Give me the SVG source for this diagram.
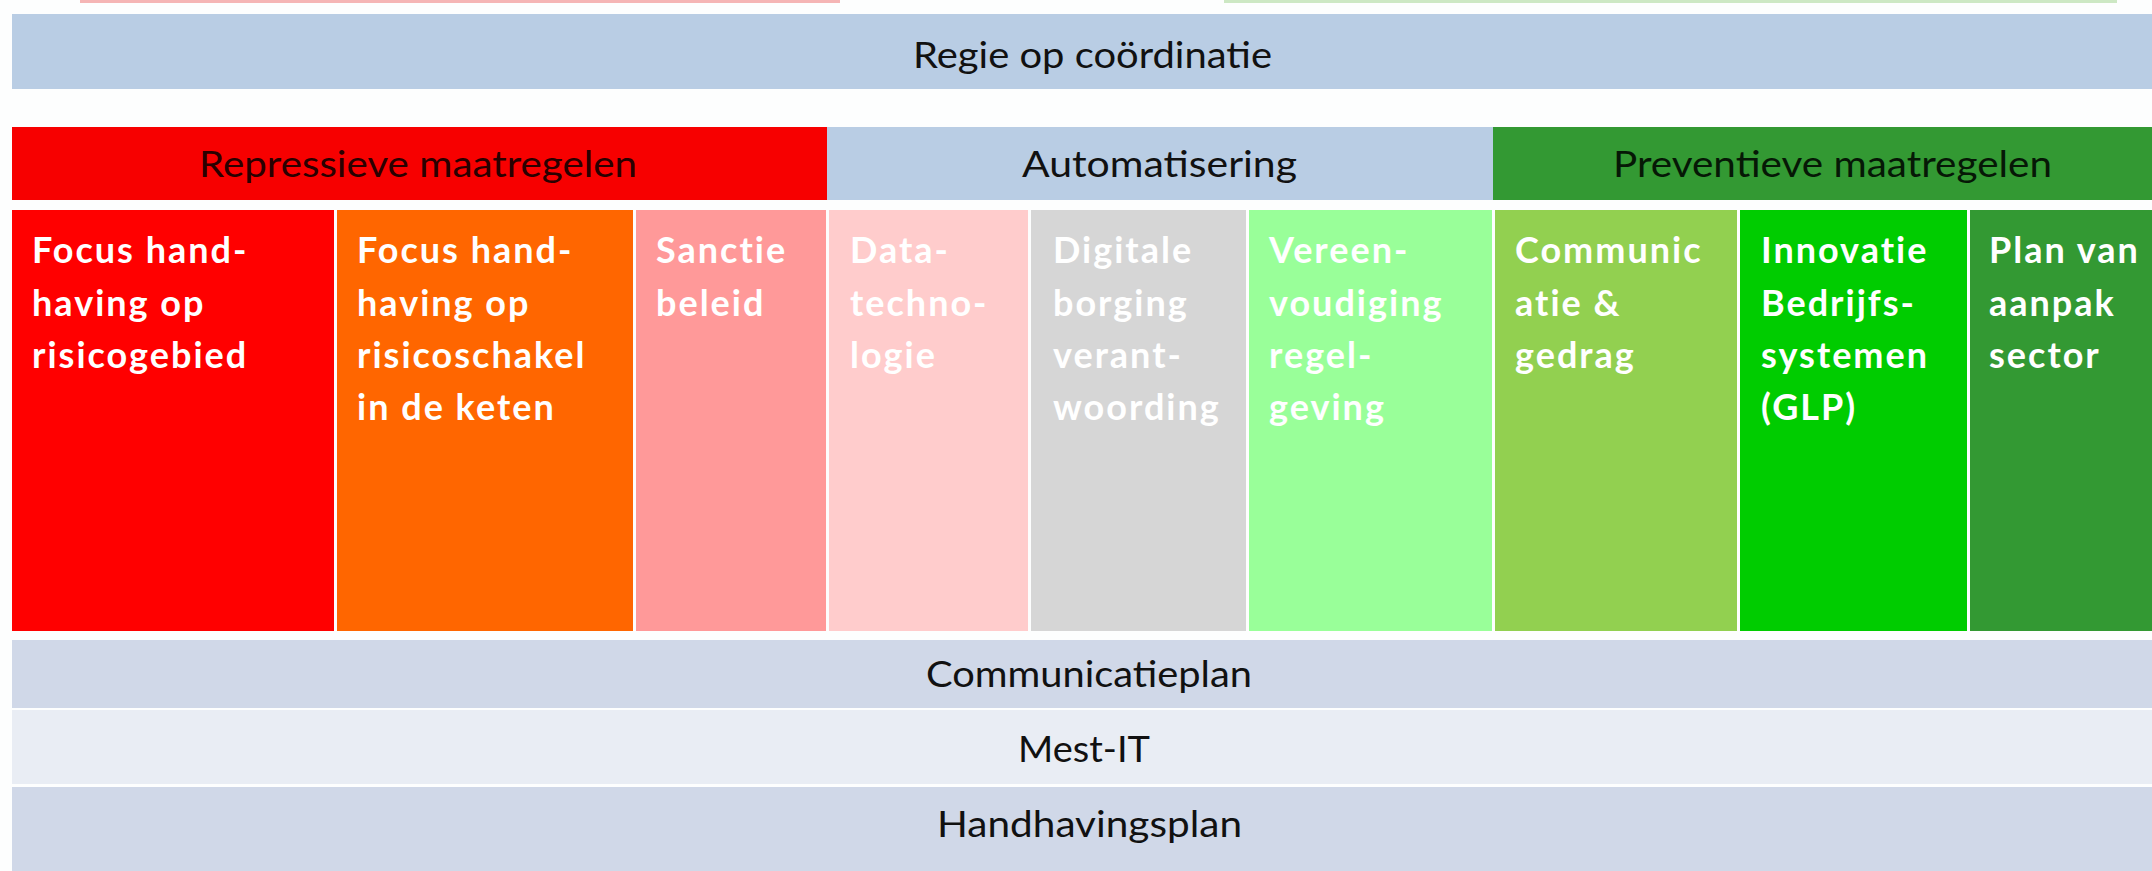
<svg xmlns="http://www.w3.org/2000/svg" width="2152" height="871" viewBox="0 0 2152 871">
<style>
.bar-text{font-family:Lato,"Liberation Sans",sans-serif;font-size:37px;fill:#111;text-anchor:start}
.col-text{font-family:Lato,"Liberation Sans",sans-serif;font-weight:bold;font-size:36px;letter-spacing:2px;fill:#ffffff}
</style>
<rect x="0" y="0" width="2152" height="871" fill="#fdfefe"/>
<g id="top-strips">
<rect x="80" y="0" width="760" height="3" fill="#f5b5b5"/>
<rect x="1224" y="0" width="893" height="3" fill="#cde8c4"/>
</g>
<g id="regie">
<rect x="12" y="14" width="2140" height="75" fill="#b9cde4"/>
<text class="bar-text" x="913" y="68" textLength="359" lengthAdjust="spacingAndGlyphs">Regie op coördinatie</text>
</g>
<g id="repressief">
<rect x="12" y="127" width="815" height="73" fill="#f70000"/>
<text class="bar-text" x="199" y="177" textLength="438" lengthAdjust="spacingAndGlyphs" style="fill:#2a0000">Repressieve maatregelen</text>
</g>
<g id="automatisering">
<rect x="827" y="127" width="666" height="73" fill="#b9cde4"/>
<text class="bar-text" x="1022" y="177" textLength="275" lengthAdjust="spacingAndGlyphs">Automatisering</text>
</g>
<g id="preventief">
<rect x="1493" y="127" width="659" height="73" fill="#339933"/>
<text class="bar-text" x="1613" y="177" textLength="439" lengthAdjust="spacingAndGlyphs" style="fill:#061806">Preventieve maatregelen</text>
</g>
<g id="col-focus-risicogebied">
<rect x="12" y="210" width="322" height="421" fill="#ff0000"/>
<text class="col-text" x="32"><tspan x="32" y="263">Focus hand-</tspan><tspan x="32" y="316">having op</tspan><tspan x="32" y="368">risicogebied</tspan></text>
</g>
<g id="col-focus-risicoschakel">
<rect x="337" y="210" width="296" height="421" fill="#ff6600"/>
<text class="col-text"><tspan x="357" y="263">Focus hand-</tspan><tspan x="357" y="316">having op</tspan><tspan x="357" y="368">risicoschakel</tspan><tspan x="357" y="420">in de keten</tspan></text>
</g>
<g id="col-sanctie">
<rect x="636" y="210" width="190" height="421" fill="#ff9999"/>
<text class="col-text"><tspan x="656" y="263">Sanctie</tspan><tspan x="656" y="316">beleid</tspan></text>
</g>
<g id="col-data">
<rect x="829" y="210" width="199" height="421" fill="#ffcccc"/>
<text class="col-text"><tspan x="850" y="263">Data-</tspan><tspan x="850" y="316">techno-</tspan><tspan x="850" y="368">logie</tspan></text>
</g>
<g id="col-digitale">
<rect x="1031" y="210" width="215" height="421" fill="#d6d6d6"/>
<text class="col-text"><tspan x="1053" y="263">Digitale</tspan><tspan x="1053" y="316">borging</tspan><tspan x="1053" y="368">verant-</tspan><tspan x="1053" y="420">woording</tspan></text>
</g>
<g id="col-vereenvoudiging">
<rect x="1249" y="210" width="243" height="421" fill="#99ff99"/>
<text class="col-text"><tspan x="1269" y="263">Vereen-</tspan><tspan x="1269" y="316">voudiging</tspan><tspan x="1269" y="368">regel-</tspan><tspan x="1269" y="420">geving</tspan></text>
</g>
<g id="col-communicatie">
<rect x="1495" y="210" width="242" height="421" fill="#92d050"/>
<text class="col-text"><tspan x="1515" y="263">Communic</tspan><tspan x="1515" y="316">atie &amp;</tspan><tspan x="1515" y="368">gedrag</tspan></text>
</g>
<g id="col-innovatie">
<rect x="1740" y="210" width="227" height="421" fill="#00cc00"/>
<text class="col-text"><tspan x="1761" y="263">Innovatie</tspan><tspan x="1761" y="316">Bedrijfs-</tspan><tspan x="1761" y="368">systemen</tspan><tspan x="1761" y="420">(GLP)</tspan></text>
</g>
<g id="col-plan">
<rect x="1970" y="210" width="182" height="421" fill="#339933"/>
<text class="col-text"><tspan x="1989" y="263">Plan van</tspan><tspan x="1989" y="316">aanpak</tspan><tspan x="1989" y="368">sector</tspan></text>
</g>
<g id="communicatieplan">
<rect x="12" y="640" width="2140" height="68" fill="#d0d8e8"/>
<text class="bar-text" x="926" y="687" textLength="326" lengthAdjust="spacingAndGlyphs">Communicatieplan</text>
</g>
<g id="mest-it">
<rect x="12" y="710" width="2140" height="74" fill="#e9edf4"/>
<text class="bar-text" x="1018" y="762" textLength="132" lengthAdjust="spacingAndGlyphs">Mest-IT</text>
</g>
<g id="handhavingsplan">
<rect x="12" y="787" width="2140" height="84" fill="#d0d8e8"/>
<text class="bar-text" x="937" y="837" textLength="305" lengthAdjust="spacingAndGlyphs">Handhavingsplan</text>
</g>
<g id="connectors"/>
</svg>
